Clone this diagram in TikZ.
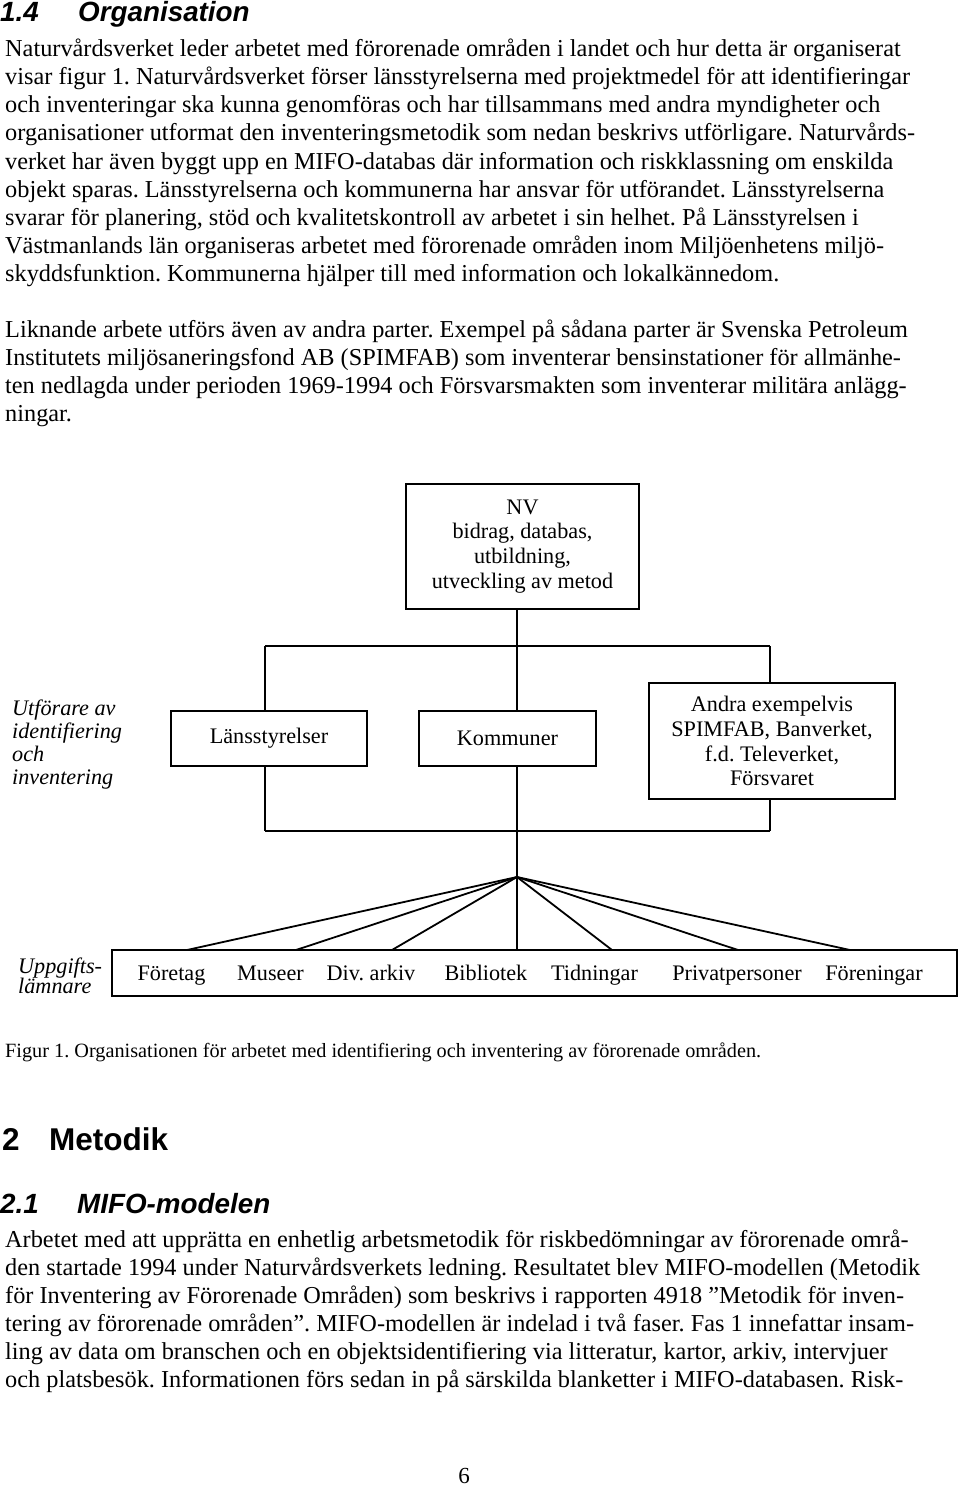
\documentclass[tikz,border=0pt]{standalone}
\usepackage{fontspec}
\setmainfont{Liberation Serif}
\newfontfamily\headfont{Liberation Sans}
\frenchspacing
\begin{document}
\frenchspacing
\begin{tikzpicture}[x=1pt,y=-1pt,
  txt/.style={anchor=base west, inner sep=0pt, font=\frenchspacing\fontsize{24.3}{28}\selectfont},
  captiontxt/.style={anchor=base west, inner sep=0pt, font=\frenchspacing\fontsize{20.25}{24}\selectfont},
  head/.style={anchor=base west, inner sep=0pt, font=\headfont\bfseries\itshape\fontsize{27.8}{32}\selectfont},
  bighead/.style={anchor=base west, inner sep=0pt, font=\headfont\bfseries\fontsize{31.5}{36}\selectfont},
  box/.style={draw, line width=1.6pt, inner sep=0pt, align=center, font=\frenchspacing\fontsize{22.2}{24.8}\selectfont},
  dtxt/.style={anchor=base, inner sep=0pt, font=\frenchspacing\fontsize{22.2}{24.8}\selectfont},
  side/.style={anchor=base west, inner sep=0pt, font=\itshape\fontsize{22.2}{24.8}\selectfont},
  conn/.style={line width=1.3pt},
  bar/.style={line width=1.7pt},
  fan/.style={line width=1.8pt}]
\fill[white] (0,0) rectangle (960,1487);
\useasboundingbox (0,0) rectangle (960,1487);

% headings
\node[head] (h1a) at (0,22) {1.4};
\node[head] (h1b) at (78,22) {Organisation};

% paragraph 1
\node[txt] (l1) at (5,57) {Naturvårdsverket leder arbetet med förorenade områden i landet och hur detta är organiserat};
\node[txt] (l2) at (5,85) {visar figur 1. Naturvårdsverket förser länsstyrelserna med projektmedel för att identifieringar};
\node[txt] (l3) at (5,113) {och inventeringar ska kunna genomföras och har tillsammans med andra myndigheter och};
\node[txt] (l4) at (5,141) {organisationer utformat den inventeringsmetodik som nedan beskrivs utförligare. Naturvårds-};
\node[txt] (l5) at (5,170) {verket har även byggt upp en MIFO-databas där information och riskklassning om enskilda};
\node[txt] (l6) at (5,198) {objekt sparas. Länsstyrelserna och kommunerna har ansvar för utförandet. Länsstyrelserna};
\node[txt] (l7) at (5,226) {svarar för planering, stöd och kvalitetskontroll av arbetet i sin helhet. På Länsstyrelsen i};
\node[txt] (l8) at (5,254) {Västmanlands län organiseras arbetet med förorenade områden inom Miljöenhetens miljö-};
\node[txt] (l9) at (5,282) {skyddsfunktion. Kommunerna hjälper till med information och lokalkännedom.};

% paragraph 2
\node[txt] (l10) at (5,337) {Liknande arbete utförs även av andra parter. Exempel på sådana parter är Svenska Petroleum};
\node[txt] (l11) at (5,365) {Institutets miljösaneringsfond AB (SPIMFAB) som inventerar bensinstationer för allmänhe-};
\node[txt] (l12) at (5,393) {ten nedlagda under perioden 1969-1994 och Försvarsmakten som inventerar militära anlägg-};
\node[txt] (l13) at (5,421) {ningar.};

% diagram boxes
\node[box, minimum width=233pt, minimum height=125pt] (nv) at (522.5,546.5)
  {NV\\bidrag, databas,\\utbildning,\\utveckling av metod};
\node[box, minimum width=196pt, minimum height=55pt] (ls) at (269,738.3) {Länsstyrelser};
\node[box, minimum width=177pt, minimum height=55pt] (km) at (507.5,738.3) {Kommuner};
\node[box, minimum width=246pt, minimum height=116pt] (an) at (772,741)
  {Andra exempelvis\\SPIMFAB, Banverket,\\f.d. Televerket,\\Försvaret};
\node[draw, line width=1.6pt, inner sep=0pt, minimum width=845pt, minimum height=46pt] (bot) at (534.5,973) {};

% side labels
\node[side] (s1) at (12,715) {Utförare av};
\node[side] (s2) at (12,738) {identifiering};
\node[side] (s3) at (12,761) {och};
\node[side] (s4) at (12,784) {inventering};
\node[side] (u1) at (18,973) {Uppgifts-};
\node[side] (u2) at (18,993) {lämnare};

% bottom box entries
\node[dtxt] (b1) at (171.5,980) {Företag};
\node[dtxt] (b2) at (270.5,980) {Museer};
\node[dtxt] (b3) at (371,980) {Div. arkiv};
\node[dtxt] (b4) at (486,980) {Bibliotek};
\node[dtxt] (b5) at (594.5,980) {Tidningar};
\node[dtxt] (b6) at (737,980) {Privatpersoner};
\node[dtxt] (b7) at (874,980) {Föreningar};

% connectors
\coordinate (tL) at (265,646);
\coordinate (tC) at (517,646);
\coordinate (tR) at (770,646);
\coordinate (bL) at (265,831);
\coordinate (bC) at (517,831);
\coordinate (bR) at (770,831);
\coordinate (apex) at (517,877);
\draw[conn] (nv.south -| tC) -- (tC);
\draw[bar] (tL) -- (tR);
\draw[conn] (tL) -- (tL |- ls.north);
\draw[conn] (tC) -- (tC |- km.north);
\draw[conn] (tR) -- (tR |- an.north);
\draw[conn] (ls.south -| bL) -- (bL);
\draw[conn] (km.south -| bC) -- (bC);
\draw[conn] (an.south -| bR) -- (bR);
\draw[bar] (bL) -- (bR);
\draw[conn] (bC) -- (apex) -- (apex |- bot.north);
\coordinate (f1) at (187,950);
\coordinate (f2) at (296,950);
\coordinate (f3) at (392,950);
\coordinate (f4) at (612,950);
\coordinate (f5) at (738,950);
\coordinate (f6) at (850,950);
\foreach \f in {f1,f2,f3,f4,f5,f6} \draw[fan] (apex) -- (\f);

% caption
\node[captiontxt] (capt) at (5,1057) {Figur 1. Organisationen för arbetet med identifiering och inventering av förorenade områden.};

% section 2
\node[bighead] (h2a) at (2,1150) {2};
\node[bighead] (h2b) at (49,1150) {Metodik};
\node[head] (h3a) at (0,1213) {2.1};
\node[head] (h3b) at (77,1213) {MIFO-modelen};

\node[txt] (m1) at (5,1247) {Arbetet med att upprätta en enhetlig arbetsmetodik för riskbedömningar av förorenade områ-};
\node[txt] (m2) at (5,1275) {den startade 1994 under Naturvårdsverkets ledning. Resultatet blev MIFO-modellen (Metodik};
\node[txt] (m3) at (5,1303) {för Inventering av Förorenade Områden) som beskrivs i rapporten 4918 ”Metodik för inven-};
\node[txt] (m4) at (5,1331) {tering av förorenade områden”. MIFO-modellen är indelad i två faser. Fas 1 innefattar insam-};
\node[txt] (m5) at (5,1359) {ling av data om branschen och en objektsidentifiering via litteratur, kartor, arkiv, intervjuer};
\node[txt] (m6) at (5,1387) {och platsbesök. Informationen förs sedan in på särskilda blanketter i MIFO-databasen. Risk-};

\node[anchor=base, inner sep=0pt, font=\fontsize{23}{26}\selectfont] (pg) at (464,1483) {6};
\end{tikzpicture}
\end{document}
